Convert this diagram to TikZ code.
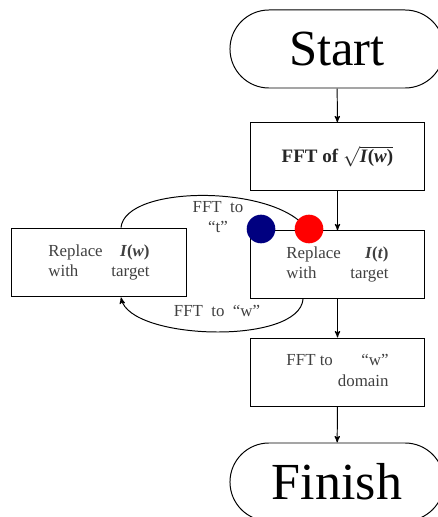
\documentclass[tikz,border=0pt]{standalone}
\usepackage{fontspec}
\setmainfont{Liberation Serif}
\usetikzlibrary{arrows}
\usetikzlibrary{shapes.misc}
\usetikzlibrary{positioning}

\definecolor{navyblue}{RGB}{0,0,128}

\begin{document}
\begin{tikzpicture}[x=0.025cm,y=-0.025cm,line width=0.7pt,
    every node/.style={font=\fontsize{12}{14.4}\selectfont},
    term/.style={draw,rounded rectangle,minimum width=5.35cm,minimum height=1.95cm,inner sep=0pt},
    proc/.style={draw,rectangle,minimum width=4.33cm,minimum height=1.68cm,text=black!75},
    spot/.style={circle,minimum size=0.715cm,inner sep=0pt}]

  \useasboundingbox (0,0) rectangle (438,517);

  \node [term,font=\fontsize{36}{40}\selectfont] (start) at (337,49) {Start};
  \node [proc,text=black!85,font=\fontsize{13.5}{16}\selectfont] (fft_sqrt) at (337.5,156.5)
    {\textbf{FFT of} $\sqrt{\textbf{\textit{I}(\textit{w})}}$};
  \node [proc] (rep_t) at (337.5,264.5)
    {\begin{tabular*}{2.55cm}{@{}l@{\extracolsep{\fill}}r@{}}
      Replace & \textbf{\textit{I}(\textit{t})} \\ with & target
    \end{tabular*}};
  \node [proc,minimum width=4.35cm,minimum height=1.72cm] (rep_w) at (99,262.5)
    {\begin{tabular*}{2.53cm}{@{}l@{\extracolsep{\fill}}r@{}}
      Replace & \textbf{\textit{I}(\textit{w})} \\ with & target
    \end{tabular*}};
  \node [proc,minimum height=1.7cm] (fft_w) at (337.5,372)
    {\begin{tabular*}{2.55cm}{@{}l@{\extracolsep{\fill}}r@{}}
      FFT to & “w” \\ & domain
    \end{tabular*}};
  \node [term,font=\fontsize{37}{40}\selectfont] (finish) at (337,482) {Finish};

  \path [draw,->,>=stealth']
    (start)    edge (fft_sqrt)
    (fft_sqrt) edge (rep_t)
    (rep_t)    edge (fft_w)
    (fft_w)    edge (finish);

  % loop between the two replace steps
  \draw [->,>=stealth'] ([xshift=0.55cm]rep_w.north)
    .. controls +(4,-43) and +(-33,-46) .. ([xshift=-0.74cm]rep_t.north);
  \draw [->,>=stealth'] ([xshift=-0.86cm]rep_t.south)
    .. controls +(-3,47) and +(9,43) .. ([xshift=0.55cm]rep_w.south);

  \node [text=black!75,align=center] (lbl_t) at (218,217) {FFT~~to\\“t”};
  \node [text=black!75] (lbl_w) at (217,311) {FFT~~to~~“w”};

  \node [spot,fill=navyblue] (dot_blue) at (261,229) {};
  \node [spot,fill=red] (dot_red) at (309,229) {};

\end{tikzpicture}
\end{document}
